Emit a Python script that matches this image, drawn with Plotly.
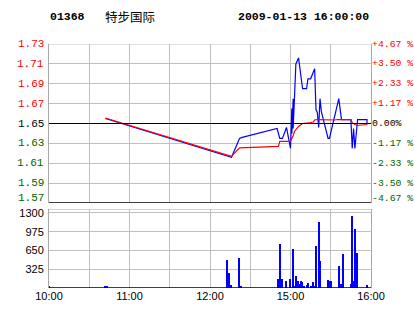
import plotly.graph_objects as go

# ---- data (time = trading minutes since 10:00; 12:30 and 14:30 are the same point) ----
price_t = [42, 133, 136, 142, 144, 170, 172, 174, 177, 180, 181, 181, 182, 182, 183, 184, 186,
           188, 189, 192, 193, 195, 198, 199, 200, 201, 202, 203, 206, 208, 209, 216, 218,
           225, 226, 227, 228, 229, 230, 237, 237]
price_v = [1.655, 1.617, 1.616, 1.635, 1.636, 1.645, 1.635, 1.635, 1.646, 1.625, 1.665, 1.640,
           1.675, 1.645, 1.680, 1.710, 1.716, 1.691, 1.685, 1.685, 1.695, 1.695, 1.705, 1.664,
           1.661, 1.646, 1.675, 1.662, 1.647, 1.635, 1.635, 1.675, 1.654, 1.654, 1.625, 1.645,
           1.625, 1.640, 1.654, 1.654, 1.649]

avg_t = [42, 133, 136, 142, 171, 172, 180, 182, 183, 186, 189, 195, 197, 198, 200, 213, 215,
         225, 226, 228, 230, 237]
avg_v = [1.6555, 1.6175, 1.617, 1.6255, 1.627, 1.632, 1.632, 1.638, 1.642, 1.647, 1.650,
         1.6508, 1.6515, 1.6535, 1.654, 1.6535, 1.654, 1.654, 1.6508, 1.649, 1.648, 1.649]

vol_t = [0, 42, 43, 133, 134, 136, 142, 143, 171, 172, 173, 174, 177, 180, 182, 183, 184, 186,
         187, 188, 189, 190, 192, 193, 195, 197, 198, 199, 201, 202, 208, 209, 210, 216, 218,
         219, 225, 226, 227, 228, 230, 237]
vol_v = [40, 40, 40, 490, 265, 57, 525, 40, 150, 768, 115, 150, 128, 150, 680, 40, 210, 126,
         69, 126, 104, 40, 45, 92, 40, 104, 40, 733, 1150, 473, 140, 126, 126, 386, 70,
         592, 70, 1252, 130, 1027, 615, 55]

prev_close = 1.65
price_ticks = [1.73, 1.71, 1.69, 1.67, 1.65, 1.63, 1.61, 1.59, 1.57]
price_labels = ["1.73", "1.71", "1.69", "1.67", "1.65", "1.63", "1.61", "1.59", "1.57"]
pct_labels = ["+4.67 %", "+3.50 %", "+2.33 %", "+1.17 %", "0.00%", "-1.17 %", "-2.33 %",
              "-3.50 %", "-4.67 %"]
vol_ticks = [325, 650, 975, 1300]
vol_labels = ["325", "650", "975", "1300"]
time_ticks = [0, 30, 60, 90, 120, 150, 180, 210, 240]
time_labels = ["10:00", "", "11:00", "", "12:00", "", "15:00", "", "16:00"]

stock_code = "01368"
stock_name = "特步国际"
stamp = "2009-01-13 16:00:00"

RED = "#ff0000"
GREEN = "#006400"
BLUE = "#0000ff"
GRID = "#c0c0c0"
AXIS = "#a8a8a8"

fig = go.Figure()
fig.add_trace(go.Scatter(x=price_t, y=price_v, mode="lines",
                         line=dict(color=BLUE, width=1.2), xaxis="x", yaxis="y",
                         hoverinfo="skip"))
fig.add_trace(go.Scatter(x=avg_t, y=avg_v, mode="lines",
                         line=dict(color=RED, width=1.2), xaxis="x", yaxis="y",
                         hoverinfo="skip"))
fig.add_trace(go.Bar(x=vol_t, y=vol_v, width=0.9, marker=dict(color=BLUE, line=dict(width=0)),
                     xaxis="x2", yaxis="y2", hoverinfo="skip"))

W, H = 414, 314
ML, MR, MT, MB = 49, 43, 44, 26
plot_w = W - ML - MR
plot_h = H - MT - MB
price_dom = [(288 - 203) / plot_h, 1]
vol_dom = [0, (288 - 209) / plot_h]

fig.update_layout(
    width=W, height=H,
    margin=dict(l=ML, r=MR, t=MT, b=MB, pad=0),
    paper_bgcolor="white", plot_bgcolor="white",
    showlegend=False,
    bargap=0,
    xaxis=dict(domain=[0, 1], anchor="y", range=[0, 240], tickvals=time_ticks,
               showticklabels=False, showgrid=True, gridcolor=GRID, gridwidth=1,
               zeroline=False, showline=False, ticks=""),
    yaxis=dict(domain=price_dom, anchor="x", range=[1.57, 1.73], tickvals=price_ticks,
               showticklabels=False, showgrid=True, gridcolor=GRID, gridwidth=1,
               zeroline=False, showline=True, linecolor=AXIS, linewidth=1, mirror=True,
               ticks=""),
    xaxis2=dict(domain=[0, 1], anchor="y2", range=[0, 240], tickvals=time_ticks,
                ticktext=time_labels, showgrid=True, gridcolor=GRID, gridwidth=1,
                zeroline=False, showline=False, ticks="",
                tickfont=dict(family="Liberation Sans", size=11, color="black")),
    yaxis2=dict(domain=vol_dom, anchor="x2", range=[0, 1369], tickvals=vol_ticks,
                ticktext=vol_labels, showgrid=True, gridcolor=GRID, gridwidth=1,
                zeroline=False, showline=True, linecolor=AXIS, linewidth=1, mirror=True,
                ticks="", ticklabelstandoff=2,
                tickfont=dict(family="Liberation Sans", size=11, color="black")),
)

shapes = [
    dict(type="line", xref="paper", yref="y", x0=0, x1=1, y0=prev_close, y1=prev_close,
         line=dict(color="black", width=1)),
    dict(type="line", xref="paper", yref="y", x0=0, x1=1, y0=1.57, y1=1.57,
         line=dict(color="black", width=1.5)),
    dict(type="line", xref="paper", yref="y", x0=0, x1=1, y0=1.73, y1=1.73,
         line=dict(color=GRID, width=1)),
    dict(type="line", xref="paper", yref="y2", x0=0, x1=1, y0=1369, y1=1369,
         line=dict(color=AXIS, width=1)),
    dict(type="line", xref="paper", yref="y2", x0=0, x1=1, y0=0, y1=0,
         line=dict(color="black", width=1.5)),
]
fig.update_layout(shapes=shapes)

ann = []
for i, (v, lab, pct) in enumerate(zip(price_ticks, price_labels, pct_labels)):
    if v > prev_close + 1e-9:
        col = RED
    elif v < prev_close - 1e-9:
        col = GREEN
    else:
        col = "black"
    ys = 5 if i == len(price_ticks) - 1 else 0
    ann.append(dict(xref="paper", yref="y", x=-3 / plot_w, y=v, text=lab, showarrow=False,
                    xanchor="right", yanchor="middle", yshift=ys,
                    font=dict(family="Liberation Mono", size=11, color=col)))
    ann.append(dict(xref="paper", yref="y", x=1, y=v, text=pct, showarrow=False,
                    xanchor="left", yanchor="middle", yshift=ys, borderpad=0,
                    font=dict(family="Liberation Mono", size=9.8, color=col)))

ann.append(dict(xref="paper", yref="paper", x=(67 - ML) / plot_w, y=1 + (MT - 16) / plot_h,
                text="<b>" + stock_code + "</b>", showarrow=False, xanchor="center",
                yanchor="middle", font=dict(family="Liberation Mono", size=11.5, color="black")))
ann.append(dict(xref="paper", yref="paper", x=(130 - ML) / plot_w, y=1 + (MT - 16) / plot_h,
                text=stock_name, showarrow=False, xanchor="center", yanchor="middle",
                font=dict(family="Noto Sans CJK SC", size=12.5, color="black")))
ann.append(dict(xref="paper", yref="paper", x=(303 - ML) / plot_w, y=1 + (MT - 16) / plot_h,
                text="<b>" + stamp + "</b>", showarrow=False, xanchor="center",
                yanchor="middle", font=dict(family="Liberation Mono", size=11.5, color="black")))
fig.update_layout(annotations=ann)

fig.write_html("out.html", include_plotlyjs=True, config={"displayModeBar": False})
